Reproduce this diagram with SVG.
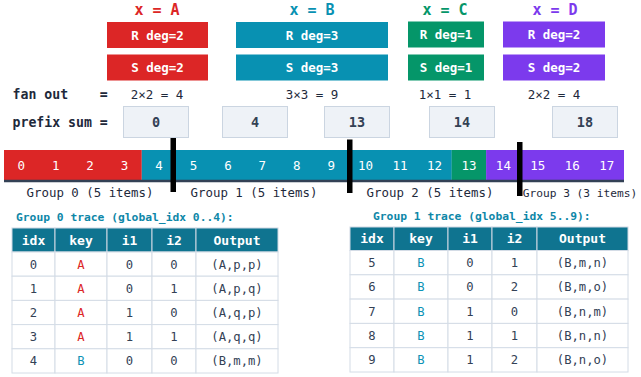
<svg xmlns="http://www.w3.org/2000/svg" width="641" height="377" viewBox="0 0 641 377">
<style>
text{font-family:"DejaVu Sans Mono","Liberation Mono",monospace}
.ttl{font-size:15px;font-weight:bold;text-anchor:middle}
.bx{font-size:12.5px;font-weight:bold;fill:#fff;text-anchor:middle}
.lbl{font-size:13.2px;font-weight:bold;fill:#1e293b}
.fo{font-size:12.5px;fill:#1e293b;text-anchor:middle}
.pb{fill:#eef2f7;stroke:#cbd5e1;stroke-width:1}
.pn{font-size:13.5px;font-weight:bold;fill:#334155;text-anchor:middle}
.cn{font-size:12.5px;fill:#fff;text-anchor:middle}
.gl{font-size:12.4px;fill:#1e293b;text-anchor:middle}
.tt{font-size:11.3px;font-weight:bold;fill:#0e87a8}
.th{fill:#0f7490;stroke:#cfd8e3;stroke-width:1}
.tht{font-size:13px;font-weight:bold;fill:#fff;text-anchor:middle}
.td{fill:#fff;stroke:#d4dce6;stroke-width:1}
.tdt{font-size:12.2px;fill:#334155;text-anchor:middle}
.ka{fill:#dc2626}
.kb{fill:#0e93b5}
.bar{fill:#000}
</style>
<g id="titles">
<text class="ttl" x="157" y="15" fill="#dc2626" xml:space="preserve">x = A</text>
<text class="ttl" x="312" y="15" fill="#0891b2" xml:space="preserve">x = B</text>
<text class="ttl" x="445" y="15" fill="#059669" xml:space="preserve">x = C</text>
<text class="ttl" x="555" y="15" fill="#7c3aed" xml:space="preserve">x = D</text>
</g>
<g id="nodeA">
<rect x="107" y="22" width="101" height="26" fill="#dc2626"/>
<text class="bx" x="157.5" y="39.5">R deg=2</text>
<rect x="107" y="54.5" width="101" height="26" fill="#dc2626"/>
<text class="bx" x="157.5" y="72">S deg=2</text>
</g>
<g id="nodeB">
<rect x="236" y="22" width="152" height="26" fill="#0891b2"/>
<text class="bx" x="312" y="39.5">R deg=3</text>
<rect x="236" y="54.5" width="152" height="26" fill="#0891b2"/>
<text class="bx" x="312" y="72">S deg=3</text>
</g>
<g id="nodeC">
<rect x="408" y="21.5" width="76" height="26" fill="#059669"/>
<text class="bx" x="446" y="39">R deg=1</text>
<rect x="408" y="54.5" width="76" height="26" fill="#059669"/>
<text class="bx" x="446" y="72">S deg=1</text>
</g>
<g id="nodeD">
<rect x="503" y="21.5" width="102" height="26" fill="#7c3aed"/>
<text class="bx" x="554" y="39">R deg=2</text>
<rect x="503" y="54.5" width="102" height="26" fill="#7c3aed"/>
<text class="bx" x="554" y="72">S deg=2</text>
</g>
<g id="fanout">
<text class="lbl" x="12.5" y="98.5" xml:space="preserve">fan out    =</text>
<text class="fo" x="157" y="98.5">2×2 = 4</text>
<text class="fo" x="312" y="98.5">3×3 = 9</text>
<text class="fo" x="445" y="98.5">1×1 = 1</text>
<text class="fo" x="554" y="98.5">2×2 = 4</text>
</g>
<g id="prefix">
<text class="lbl" x="12.5" y="127" xml:space="preserve">prefix sum =</text>
<rect class="pb" x="123.5" y="106.5" width="65" height="31"/>
<text class="pn" x="156" y="127">0</text>
<rect class="pb" x="222.5" y="106.5" width="65" height="31"/>
<text class="pn" x="255" y="127">4</text>
<rect class="pb" x="324.5" y="106.5" width="65" height="31"/>
<text class="pn" x="357" y="127">13</text>
<rect class="pb" x="429.5" y="106.5" width="65" height="31"/>
<text class="pn" x="462" y="127">14</text>
<rect class="pb" x="552.5" y="106.5" width="65" height="31"/>
<text class="pn" x="585" y="127">18</text>
</g>
<g id="indexbar">
<rect x="4" y="150" width="137.8" height="30.5" fill="#dc2626"/>
<rect x="141.8" y="150" width="310" height="30.5" fill="#0891b2"/>
<rect x="451.7" y="150" width="34.5" height="30.5" fill="#059669"/>
<rect x="486.1" y="150" width="137.9" height="30.5" fill="#7c3aed"/>
<line x1="4" y1="181" x2="624" y2="181" stroke="#334155" stroke-width="2.5"/>
<text class="cn" x="21.2" y="170">0</text>
<text class="cn" x="55.7" y="170">1</text>
<text class="cn" x="90.1" y="170">2</text>
<text class="cn" x="124.6" y="170">3</text>
<text class="cn" x="159" y="170">4</text>
<text class="cn" x="193.4" y="170">5</text>
<text class="cn" x="227.9" y="170">6</text>
<text class="cn" x="262.3" y="170">7</text>
<text class="cn" x="296.8" y="170">8</text>
<text class="cn" x="331.2" y="170">9</text>
<text class="cn" x="365.6" y="170">10</text>
<text class="cn" x="400.1" y="170">11</text>
<text class="cn" x="434.5" y="170">12</text>
<text class="cn" x="469" y="170">13</text>
<text class="cn" x="503.4" y="170">14</text>
<text class="cn" x="537.8" y="170">15</text>
<text class="cn" x="572.3" y="170">16</text>
<text class="cn" x="606.7" y="170">17</text>
<text class="gl" x="90" y="197">Group 0 (5 items)</text>
<text class="gl" x="254" y="197">Group 1 (5 items)</text>
<text class="gl" x="430" y="197">Group 2 (5 items)</text>
<text class="gl" x="580" y="197" style="font-size:11.2px">Group 3 (3 items)</text>
</g>
<g id="connectors">
<rect class="bar" x="170.5" y="138" width="5.5" height="54"/>
<rect class="bar" x="347" y="139.5" width="5.5" height="53.5"/>
<rect class="bar" x="517" y="142" width="5.5" height="54"/>
</g>
<g id="table0">
<text class="tt" x="16" y="221">Group 0 trace (global_idx 0..4):</text>
<rect class="th" x="12" y="228" width="43" height="24"/>
<rect class="th" x="55" y="228" width="52" height="24"/>
<rect class="th" x="107" y="228" width="45" height="24"/>
<rect class="th" x="152" y="228" width="44" height="24"/>
<rect class="th" x="196" y="228" width="82" height="24"/>
<text class="tht" x="33.5" y="244.5">idx</text>
<text class="tht" x="81" y="244.5">key</text>
<text class="tht" x="129.5" y="244.5">i1</text>
<text class="tht" x="174" y="244.5">i2</text>
<text class="tht" x="237" y="244.5">Output</text>
<g>
<rect class="td" x="12" y="252" width="43" height="24.2"/><rect class="td" x="55" y="252" width="52" height="24.2"/><rect class="td" x="107" y="252" width="45" height="24.2"/><rect class="td" x="152" y="252" width="44" height="24.2"/><rect class="td" x="196" y="252" width="82" height="24.2"/>
<rect class="td" x="12" y="276.2" width="43" height="24.2"/><rect class="td" x="55" y="276.2" width="52" height="24.2"/><rect class="td" x="107" y="276.2" width="45" height="24.2"/><rect class="td" x="152" y="276.2" width="44" height="24.2"/><rect class="td" x="196" y="276.2" width="82" height="24.2"/>
<rect class="td" x="12" y="300.4" width="43" height="24.2"/><rect class="td" x="55" y="300.4" width="52" height="24.2"/><rect class="td" x="107" y="300.4" width="45" height="24.2"/><rect class="td" x="152" y="300.4" width="44" height="24.2"/><rect class="td" x="196" y="300.4" width="82" height="24.2"/>
<rect class="td" x="12" y="324.6" width="43" height="24.2"/><rect class="td" x="55" y="324.6" width="52" height="24.2"/><rect class="td" x="107" y="324.6" width="45" height="24.2"/><rect class="td" x="152" y="324.6" width="44" height="24.2"/><rect class="td" x="196" y="324.6" width="82" height="24.2"/>
<rect class="td" x="12" y="348.8" width="43" height="24.2"/><rect class="td" x="55" y="348.8" width="52" height="24.2"/><rect class="td" x="107" y="348.8" width="45" height="24.2"/><rect class="td" x="152" y="348.8" width="44" height="24.2"/><rect class="td" x="196" y="348.8" width="82" height="24.2"/>
</g>
<text class="tdt" x="33.5" y="268.5">0</text><text class="tdt ka" x="81" y="268.5">A</text><text class="tdt" x="129.5" y="268.5">0</text><text class="tdt" x="174" y="268.5">0</text><text class="tdt" x="237" y="268.5">(A,p,p)</text>
<text class="tdt" x="33.5" y="292.7">1</text><text class="tdt ka" x="81" y="292.7">A</text><text class="tdt" x="129.5" y="292.7">0</text><text class="tdt" x="174" y="292.7">1</text><text class="tdt" x="237" y="292.7">(A,p,q)</text>
<text class="tdt" x="33.5" y="316.9">2</text><text class="tdt ka" x="81" y="316.9">A</text><text class="tdt" x="129.5" y="316.9">1</text><text class="tdt" x="174" y="316.9">0</text><text class="tdt" x="237" y="316.9">(A,q,p)</text>
<text class="tdt" x="33.5" y="341.1">3</text><text class="tdt ka" x="81" y="341.1">A</text><text class="tdt" x="129.5" y="341.1">1</text><text class="tdt" x="174" y="341.1">1</text><text class="tdt" x="237" y="341.1">(A,q,q)</text>
<text class="tdt" x="33.5" y="365.3">4</text><text class="tdt kb" x="81" y="365.3">B</text><text class="tdt" x="129.5" y="365.3">0</text><text class="tdt" x="174" y="365.3">0</text><text class="tdt" x="237" y="365.3">(B,m,m)</text>
</g>
<g id="table1">
<text class="tt" x="373" y="220">Group 1 trace (global_idx 5..9):</text>
<rect class="th" x="350" y="227" width="44" height="23.5"/>
<rect class="th" x="394" y="227" width="54" height="23.5"/>
<rect class="th" x="448" y="227" width="44" height="23.5"/>
<rect class="th" x="492" y="227" width="45" height="23.5"/>
<rect class="th" x="537" y="227" width="91" height="23.5"/>
<text class="tht" x="372" y="243">idx</text>
<text class="tht" x="421" y="243">key</text>
<text class="tht" x="470" y="243">i1</text>
<text class="tht" x="514.5" y="243">i2</text>
<text class="tht" x="582.5" y="243">Output</text>
<g>
<rect class="td" x="350" y="250.5" width="44" height="24.3"/><rect class="td" x="394" y="250.5" width="54" height="24.3"/><rect class="td" x="448" y="250.5" width="44" height="24.3"/><rect class="td" x="492" y="250.5" width="45" height="24.3"/><rect class="td" x="537" y="250.5" width="91" height="24.3"/>
<rect class="td" x="350" y="274.8" width="44" height="24.3"/><rect class="td" x="394" y="274.8" width="54" height="24.3"/><rect class="td" x="448" y="274.8" width="44" height="24.3"/><rect class="td" x="492" y="274.8" width="45" height="24.3"/><rect class="td" x="537" y="274.8" width="91" height="24.3"/>
<rect class="td" x="350" y="299.1" width="44" height="24.3"/><rect class="td" x="394" y="299.1" width="54" height="24.3"/><rect class="td" x="448" y="299.1" width="44" height="24.3"/><rect class="td" x="492" y="299.1" width="45" height="24.3"/><rect class="td" x="537" y="299.1" width="91" height="24.3"/>
<rect class="td" x="350" y="323.4" width="44" height="24.3"/><rect class="td" x="394" y="323.4" width="54" height="24.3"/><rect class="td" x="448" y="323.4" width="44" height="24.3"/><rect class="td" x="492" y="323.4" width="45" height="24.3"/><rect class="td" x="537" y="323.4" width="91" height="24.3"/>
<rect class="td" x="350" y="347.7" width="44" height="24.3"/><rect class="td" x="394" y="347.7" width="54" height="24.3"/><rect class="td" x="448" y="347.7" width="44" height="24.3"/><rect class="td" x="492" y="347.7" width="45" height="24.3"/><rect class="td" x="537" y="347.7" width="91" height="24.3"/>
</g>
<text class="tdt" x="372" y="267">5</text><text class="tdt kb" x="421" y="267">B</text><text class="tdt" x="470" y="267">0</text><text class="tdt" x="514.5" y="267">1</text><text class="tdt" x="582.5" y="267">(B,m,n)</text>
<text class="tdt" x="372" y="291.3">6</text><text class="tdt kb" x="421" y="291.3">B</text><text class="tdt" x="470" y="291.3">0</text><text class="tdt" x="514.5" y="291.3">2</text><text class="tdt" x="582.5" y="291.3">(B,m,o)</text>
<text class="tdt" x="372" y="315.6">7</text><text class="tdt kb" x="421" y="315.6">B</text><text class="tdt" x="470" y="315.6">1</text><text class="tdt" x="514.5" y="315.6">0</text><text class="tdt" x="582.5" y="315.6">(B,n,m)</text>
<text class="tdt" x="372" y="339.9">8</text><text class="tdt kb" x="421" y="339.9">B</text><text class="tdt" x="470" y="339.9">1</text><text class="tdt" x="514.5" y="339.9">1</text><text class="tdt" x="582.5" y="339.9">(B,n,n)</text>
<text class="tdt" x="372" y="364.2">9</text><text class="tdt kb" x="421" y="364.2">B</text><text class="tdt" x="470" y="364.2">1</text><text class="tdt" x="514.5" y="364.2">2</text><text class="tdt" x="582.5" y="364.2">(B,n,o)</text>
</g>
</svg>
